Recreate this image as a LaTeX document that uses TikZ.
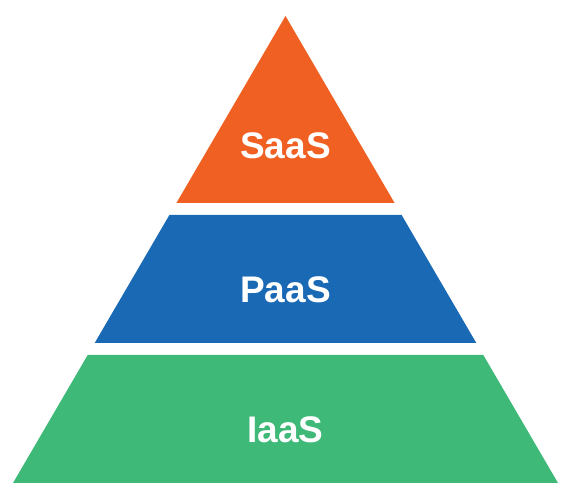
\documentclass[tikz,border=0pt]{standalone}
\usepackage{fontspec}
\setmainfont{Liberation Sans}
\definecolor{saasc}{HTML}{F06022}
\definecolor{paasc}{HTML}{1A69B4}
\definecolor{iaasc}{HTML}{3FB978}
\begin{document}
\begin{tikzpicture}[x=1pt,y=1pt,
  lbl/.style={text=white,font=\bfseries\fontsize{37}{41}\selectfont,anchor=base,inner sep=0pt}]
\useasboundingbox (0,0) rectangle (584,500);
\fill[saasc] (285.5,484) -- (394.6,297) -- (176.4,297) -- cycle;
\fill[paasc] (169.4,285) -- (401.6,285) -- (476.3,157) -- (94.7,157) -- cycle;
\fill[iaasc] (87.7,145) -- (483.3,145) -- (558,17) -- (13,17) -- cycle;
\node[lbl] (saas) at (285.5,341) {SaaS};
\node[lbl] (paas) at (285.5,197) {PaaS};
\node[lbl] (iaas) at (285.5,57) {IaaS};
\end{tikzpicture}
\end{document}
